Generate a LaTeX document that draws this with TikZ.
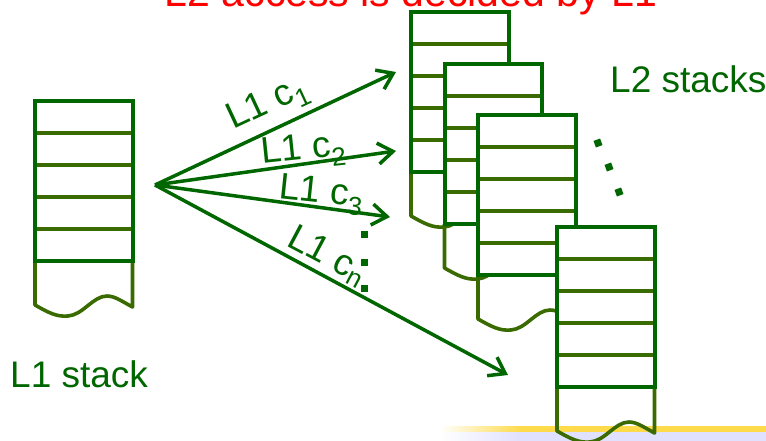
\documentclass[tikz,border=0pt]{standalone}
\usepackage{fontspec}
\setmainfont{Liberation Sans}
\usetikzlibrary{arrows.meta}
\definecolor{dkgreen}{HTML}{006600}
\definecolor{stackolive}{HTML}{3A6B00}
\definecolor{titlered}{HTML}{FF0000}

\tikzset{
  frame/.style={draw=dkgreen, line width=4pt, line join=miter},
  divider/.style={draw=stackolive, line width=3.6pt},
  tail/.style={draw=stackolive, line width=3.6pt, line join=round},
  link/.style={draw=dkgreen, line width=3.5pt, -{Straight Barb[length=15pt,width=21pt]}},
  lbl/.style={text=dkgreen, font=\fontsize{37}{37}\selectfont, inner sep=0pt, anchor=base west},
  caption/.style={text=dkgreen, font=\fontsize{37}{37}\selectfont, inner sep=0pt, anchor=base west},
  dotmark/.style={fill=dkgreen, draw=none, minimum size=7pt, inner sep=0pt},
  % one stack: five cells on top of an open, wavy-bottomed tail
  memstack/.pic={
    \fill[white] (0,0) rectangle (97.5,160);
    \draw[tail] (0,160) -- (0,204)
      .. controls (14,212) and (22,216) .. (33,215)
      .. controls (48,214) and (58,195) .. (72,195)
      .. controls (80,195) and (88,201) .. (97.5,206) -- (97.5,160);
    \foreach \yy in {32,64,96,128} \draw[divider] (0,\yy) -- (97.5,\yy);
    \draw[frame] (0,0) rectangle (97.5,160);
  }
}

\begin{document}
\begin{tikzpicture}[x=1pt,y=-1pt]
\useasboundingbox (0,0) rectangle (766,441);

% footer band at the lower right
\shade[left color=white, right color=orange!40!yellow!70] (440,426) rectangle (520,432);
\fill[orange!40!yellow!70] (519.5,426) rectangle (766,432);
\shade[left color=white, right color=blue!12] (440,432) rectangle (520,441);
\fill[blue!12] (519.5,432) rectangle (766,441);

% heading
\node[text=titlered, font=\fontsize{41}{41}\selectfont, inner sep=0pt, anchor=base]
  (heading) at (411,7) {L2 access is decided by L1};

% L1 stack
\pic (l1) at (35,101) {memstack};
\node[caption] (l1name) at (10,387) {L1 stack};

% arrows from the L1 stack
\coordinate (src) at (155,185);
\coordinate (t1) at (396,72);
\coordinate (t2) at (396,151);
\coordinate (t3) at (390,217);
\coordinate (t4) at (508,375);
\draw[link] (src) -- (t1);
\draw[link] (src) -- (t2);
\draw[link] (src) -- (t3);
\draw[link] (src) -- (t4);

\node[lbl, rotate=25] (c1) at (233,130) {L1 c\textsubscript{1}};
\node[lbl, rotate=6] (c2) at (262,164) {L1 c\textsubscript{2}};
\node[lbl, rotate=-6] (c3) at (278,198) {L1 c\textsubscript{3}};
\node[lbl, rotate=-28] (cn) at (285,245) {L1 c\textsubscript{n}};

% vertical ellipsis between the arrows
\node[dotmark] (e1) at (364,234) {};
\node[dotmark] (e2) at (364,262) {};
\node[dotmark] (e3) at (364,288) {};

% L2 stacks, back to front
\pic (l2a) at (411,12) {memstack};
\pic (l2b) at (444.5,64) {memstack};
\pic (l2c) at (478,115) {memstack};
\pic (l2d) at (557,227) {memstack};

% diagonal ellipsis between the L2 stacks
\node[dotmark, rotate=20] (f1) at (598,143) {};
\node[dotmark, rotate=20] (f2) at (609,167) {};
\node[dotmark, rotate=20] (f3) at (619,192) {};

\node[caption] (l2name) at (610,93) {L2 stacks};
\end{tikzpicture}
\end{document}
